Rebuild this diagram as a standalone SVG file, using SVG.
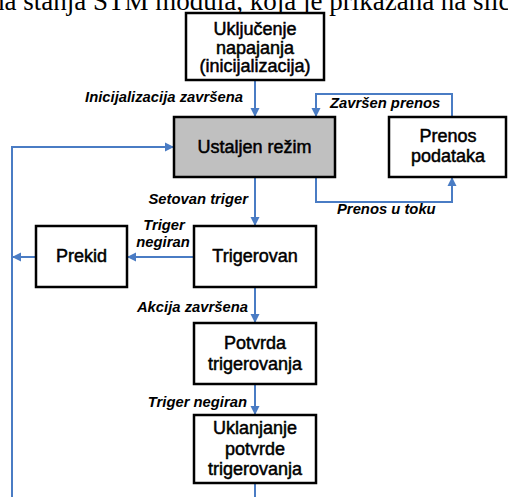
<svg xmlns="http://www.w3.org/2000/svg" width="508" height="497" viewBox="0 0 508 497">
<style>
.box{fill:#fff;stroke:#000;stroke-width:2.5}
.gray{fill:#c0c0c0}
.t{font-family:"Liberation Sans",Arial,sans-serif;font-size:18px;text-anchor:middle;fill:#000;stroke:#000;stroke-width:0.5}
.lb{font-family:"Liberation Sans",Arial,sans-serif;font-size:14.8px;font-weight:bold;font-style:italic;fill:#000}
.c{fill:none;stroke:#4a7cc4;stroke-width:2}
.hd{font-family:"Liberation Serif","Times New Roman",serif;font-size:27px;fill:#000}
</style>
<defs>
<marker id="ah" viewBox="0 0 10 10" refX="10" refY="5" markerWidth="9" markerHeight="10" markerUnits="userSpaceOnUse" orient="auto">
<path d="M0,0 L10,5 L0,10 z" fill="#4a7cc4"/>
</marker>
</defs>
<text class="hd" x="-9" y="9.5">na stanja STM modula, koja je prikazana na slici</text>
<g id="connectors">
<path class="c" d="M255,80 V117" marker-end="url(#ah)"/>
<path class="c" d="M452,117 V94 H316 V117" marker-end="url(#ah)"/>
<path class="c" d="M316,177 V202 H452 V177" marker-end="url(#ah)"/>
<path class="c" d="M255,177 V226" marker-end="url(#ah)"/>
<path class="c" d="M194,257 H127" marker-end="url(#ah)"/>
<path class="c" d="M36,257 H12" marker-end="url(#ah)"/>
<path class="c" d="M12,497 V147 H174" marker-end="url(#ah)"/>
<path class="c" d="M255,287 V323" marker-end="url(#ah)"/>
<path class="c" d="M255,384 V415" marker-end="url(#ah)"/>
<path class="c" d="M255,483 V497"/>
<text class="lb" x="243" y="102" text-anchor="end">Inicijalizacija završena</text>
<text class="lb" x="330" y="108">Završen prenos</text>
<text class="lb" x="248" y="204" text-anchor="end">Setovan triger</text>
<text class="lb" x="337" y="214">Prenos u toku</text>
<text class="lb" x="164" y="229.5" text-anchor="middle">Triger</text>
<text class="lb" x="163" y="247" text-anchor="middle">negiran</text>
<text class="lb" x="248" y="312" text-anchor="end">Akcija završena</text>
<text class="lb" x="247" y="407" text-anchor="end">Triger negiran</text>
</g>
<g id="n-ukljucenje">
<rect class="box" x="186" y="13" width="138" height="67"/>
<text class="t" x="255" y="35">Uključenje</text>
<text class="t" x="255" y="53.5">napajanja</text>
<text class="t" x="255" y="72">(inicijalizacija)</text>
</g>
<g id="n-ustaljen">
<rect class="box gray" x="174" y="117" width="161" height="60"/>
<text class="t" x="254.5" y="153">Ustaljen režim</text>
</g>
<g id="n-prenos">
<rect class="box" x="389" y="117" width="117" height="60"/>
<text class="t" x="448" y="142">Prenos</text>
<text class="t" x="448" y="162">podataka</text>
</g>
<g id="n-trigerovan">
<rect class="box" x="194" y="226" width="122" height="61"/>
<text class="t" x="255" y="262">Trigerovan</text>
</g>
<g id="n-prekid">
<rect class="box" x="36" y="226" width="91" height="61"/>
<text class="t" x="81.5" y="262">Prekid</text>
</g>
<g id="n-potvrda">
<rect class="box" x="194" y="323" width="122" height="61"/>
<text class="t" x="255" y="349">Potvrda</text>
<text class="t" x="255" y="369.5">trigerovanja</text>
</g>
<g id="n-uklanjanje">
<rect class="box" x="194" y="415" width="122" height="68"/>
<text class="t" x="255" y="434">Uklanjanje</text>
<text class="t" x="255" y="455">potvrde</text>
<text class="t" x="255" y="475">trigerovanja</text>
</g>
</svg>
